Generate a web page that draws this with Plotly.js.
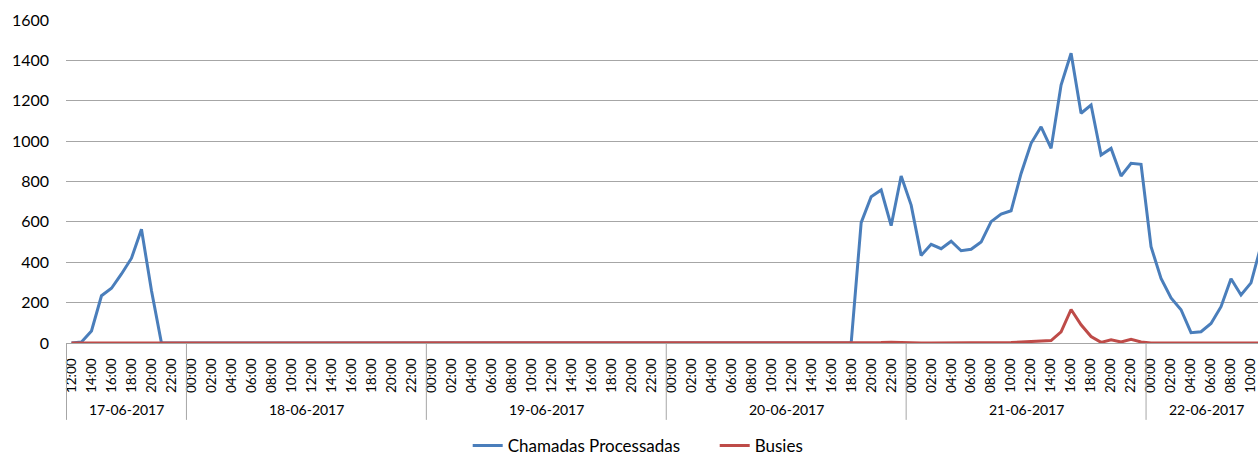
<!DOCTYPE html>
<html>
<head>
<meta charset="utf-8">
<script src="https://cdn.plot.ly/plotly-3.0.1.min.js"></script>
<style>
html,body{margin:0;padding:0;background:#fff;overflow:hidden;}
#chart{width:1258px;height:455px;}
</style>
</head>
<body>
<div id="chart"></div>
<script>
// Category days and their hour spans
const days = ['17-06-2017','18-06-2017','19-06-2017','20-06-2017','21-06-2017','22-06-2017'];
const dayFirstHour = [12, 0, 0, 0, 0, 0];
const dayLastHour  = [23, 23, 23, 23, 23, 11];
const tickEvery = 2;

// Series values, one per hour (17-06 12:00 ... 22-06 11:00)
const chamadas17 = [0,5,60,234,271,342,420,563,260,0,0,0];
const chamadas18 = [0,0,0,0,0,0,0,0,0,0,0,0,0,0,0,0,0,0,0,0,0,0,0,0];
const chamadas19 = [0,0,0,0,0,0,0,0,0,0,0,0,0,0,0,0,0,0,0,0,0,0,0,0];
const chamadas20 = [0,0,0,0,0,0,0,0,0,0,0,0,0,0,0,0,0,0,0,596,725,758,581,827];
const chamadas21 = [683,434,489,467,504,457,464,500,601,639,655,840,989,1071,964,1278,1435,1138,1179,931,964,827,890,885];
const chamadas22 = [477,320,223,165,51,56,97,180,318,238,298,482];

const busies17 = [0,0,0,0,0,0,0,0,0,0,0,0];
const busies18 = [0,0,0,0,0,0,0,0,0,0,0,0,0,0,0,0,0,0,0,0,0,0,0,0];
const busies19 = [0,0,0,0,0,0,0,0,0,0,0,0,0,0,0,0,0,0,0,0,0,0,0,0];
const busies20 = [0,0,0,0,0,0,0,0,0,0,0,0,0,0,0,0,0,0,0,0,0,2,4,2];
const busies21 = [0,0,0,0,0,0,0,0,0,0,2,5,8,8,12,55,166,90,32,3,16,5,18,5];
const busies22 = [0,0,0,0,0,0,0,0,0,0,0,0];

const chamadas = [].concat(chamadas17, chamadas18, chamadas19, chamadas20, chamadas21, chamadas22);
const busies = [].concat(busies17, busies18, busies19, busies20, busies21, busies22);

// Build category index
const xIdx = [], tickVals = [], tickText = [], dayStart = [], dayEnd = [];
let k = 0;
days.forEach((d, di) => {
  dayStart.push(k);
  for (let h = dayFirstHour[di]; h <= dayLastHour[di]; h++) {
    xIdx.push(k);
    if (h % tickEvery === 0) {
      tickVals.push(k);
      tickText.push((h < 10 ? '0' : '') + h + ':00');
    }
    k++;
  }
  dayEnd.push(k - 1);
});

const FONT = 'Lato, "Open Sans", sans-serif';
const sepColor = '#a6a6a6';

const shapes = dayStart.map(s => ({
  type: 'line', xref: 'x', yref: 'paper',
  x0: s - 0.5, x1: s - 0.5, y0: 0, y1: -0.238,
  line: {color: sepColor, width: 1}
}));

const annotations = days.map((d, i) => ({
  text: d, xref: 'x', yref: 'paper',
  x: (dayStart[i] + dayEnd[i]) / 2, y: -0.2074,
  xanchor: 'center', yanchor: 'middle', showarrow: false,
  font: {family: FONT, size: 14, color: '#000'}
}));

const traces = [
  {x: xIdx, y: chamadas, type: 'scatter', mode: 'lines', name: 'Chamadas Processadas',
   line: {color: '#4a7ebb', width: 3}},
  {x: xIdx, y: busies, type: 'scatter', mode: 'lines', name: 'Busies',
   line: {color: '#be4b48', width: 3}}
];

const layout = {
  width: 1258, height: 455,
  margin: {l: 66, r: 0, t: 20, b: 112, autoexpand: false},
  paper_bgcolor: '#fff', plot_bgcolor: '#fff',
  font: {family: FONT, color: '#000'},
  showlegend: true,
  legend: {orientation: 'h', x: 0.337, xanchor: 'left',
           yref: 'container', y: 0.0198, yanchor: 'middle',
           entrywidth: 202, entrywidthmode: 'pixels',
           font: {family: FONT, size: 17, color: '#000'}, traceorder: 'normal', itemwidth: 30},
  xaxis: {
    type: 'linear', range: [-0.55, 118.7], automargin: false,
    tickmode: 'array', tickvals: tickVals, ticktext: tickText,
    tickangle: -90, ticks: '', showgrid: false, zeroline: false,
    showline: true, linecolor: sepColor, linewidth: 1,
    tickfont: {family: FONT, size: 13.5, color: '#000'},
    ticklabelstandoff: 9, ticklabeloverflow: 'allow'
  },
  yaxis: {
    range: [0, 1600], dtick: 200, tick0: 0, automargin: false,
    showgrid: true, gridcolor: '#a6a6a6', gridwidth: 1,
    zeroline: false, showline: false, ticks: '',
    tickfont: {family: FONT, size: 16, color: '#000'},
    ticklabelstandoff: 16
  },
  shapes: shapes,
  annotations: annotations
};

Plotly.newPlot('chart', traces, layout, {displayModeBar: false, staticPlot: true});
</script>
</body>
</html>
